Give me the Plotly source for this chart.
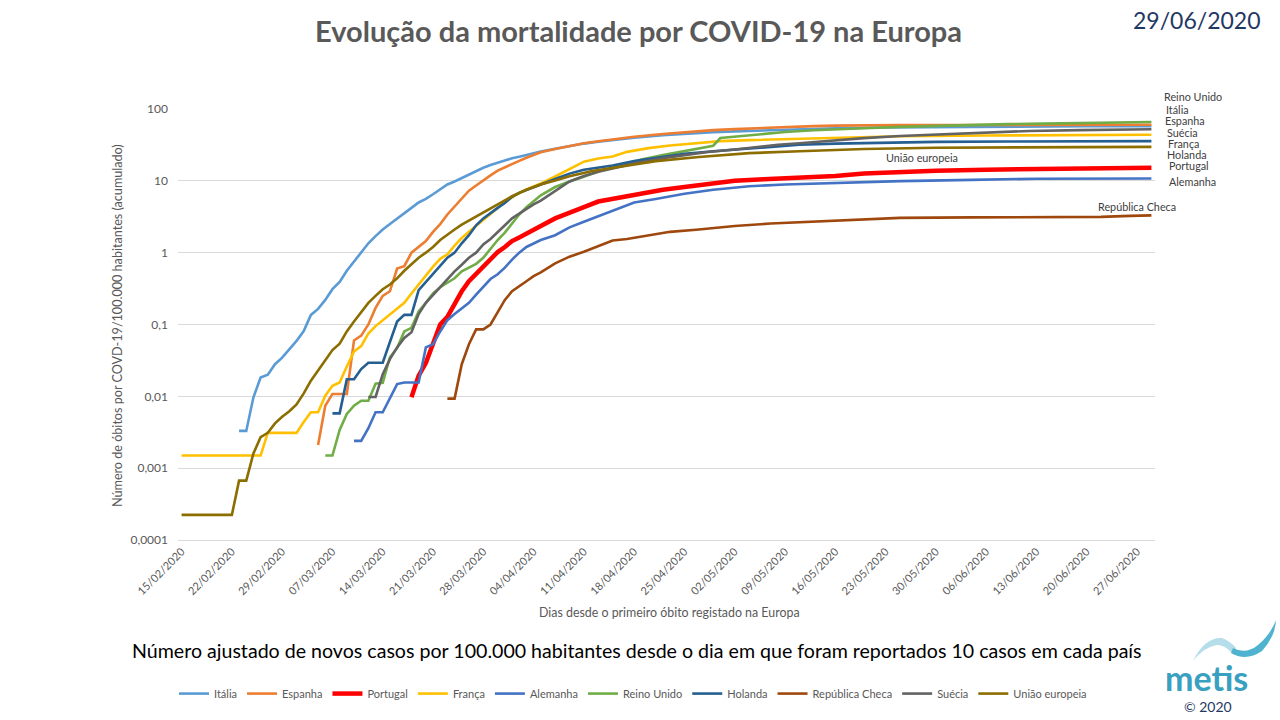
import datetime as dt
import plotly.graph_objects as go

# ---------------- DATA ----------------
# x = days since 15/02/2020, y = cumulative deaths per 100.000 inhabitants
START_DATE = "2020-02-15"

ITALIA_DAYS = [8, 9, 10, 11, 12, 13, 14, 15, 16, 17, 18, 19, 20, 21, 22, 23, 24, 25, 26, 27, 28, 29, 30, 31, 32, 33, 34,
               35, 36, 37, 38, 39, 40, 41, 42, 43, 44, 45, 46, 47, 48, 49, 50, 52, 54, 56, 58, 60, 63, 67, 70, 74, 77,
               81, 84, 88, 91, 98, 105, 112, 119, 126, 135]
ITALIA_VALS = [0.0033, 0.0033, 0.0097, 0.0183, 0.020, 0.028, 0.0345, 0.045, 0.059, 0.081, 0.136, 0.165, 0.22, 0.31,
               0.39, 0.56, 0.75, 1.0, 1.35, 1.7, 2.1, 2.5, 3.0, 3.6, 4.2, 5.0, 5.6, 6.5, 7.7, 8.9, 9.8, 11.0, 12.3,
               13.6, 15.2, 16.6, 17.9, 19.3, 20.6, 21.7, 23.0, 24.2, 25.6, 28.0, 30.6, 33.0, 35.0, 37.0, 39.7, 43.2,
               45.3, 47.5, 48.8, 50.5, 52.0, 53.0, 54.0, 55.3, 56.1, 56.7, 57.1, 57.4, 57.6]

ESPANHA_DAYS = [19, 20, 21, 22, 23, 24, 25, 26, 27, 28, 29, 30, 31, 32, 33, 34, 35, 36, 37, 38, 39, 40, 41, 42, 43, 44,
                45, 46, 47, 48, 49, 50, 52, 54, 56, 58, 60, 63, 67, 70, 74, 77, 81, 84, 88, 91, 95, 100, 112, 124, 135]
ESPANHA_VALS = [0.0021, 0.0074, 0.0108, 0.0108, 0.0108, 0.06, 0.07, 0.10, 0.17, 0.25, 0.29, 0.60, 0.65, 1.0, 1.2,
                1.45, 1.95, 2.5, 3.4, 4.4, 5.6, 7.3, 8.6, 10.2, 11.9, 13.9, 15.3, 17.0, 19.0, 21.0, 22.8, 25.0, 27.8,
                30.5, 33.3, 35.6, 37.9, 41.0, 44.9, 47.7, 50.8, 52.5, 54.7, 56.5, 57.8, 58.6, 59.6, 60.0, 60.0, 60.1,
                60.3]

PORTUGAL_DAYS = [32, 33, 34, 35, 36, 37, 38, 39, 40, 41, 42, 43, 44, 45, 46, 47, 48, 50, 52, 54, 56, 58, 60, 63, 67,
                 70, 74, 77, 81, 86, 91, 95, 100, 105, 112, 119, 126, 133, 135]
PORTUGAL_VALS = [0.0097, 0.0194, 0.029, 0.055, 0.10, 0.128, 0.20, 0.29, 0.40, 0.50, 0.64, 0.82, 1.02, 1.2, 1.45,
                 1.63, 1.82, 2.35, 3.0, 3.65, 4.3, 5.15, 5.6, 6.5, 7.5, 8.2, 9.2, 10.0, 10.5, 11.0, 11.7, 12.6, 13.4,
                 13.8, 14.3, 14.7, 14.9, 15.0, 15.2]

FRANCA_DAYS = [0, 11, 12, 16, 17, 18, 19, 20, 21, 22, 23, 24, 25, 26, 27, 28, 29, 30, 31, 32, 33, 34, 35, 36, 37, 38,
               39, 40, 41, 42, 43, 44, 45, 46, 47, 48, 50, 52, 54, 56, 58, 60, 62, 65, 68, 72, 75, 79, 84, 91, 100,
               112, 125, 135]
FRANCA_VALS = [0.0015, 0.0015, 0.0031, 0.0031, 0.0044, 0.006, 0.006, 0.0102, 0.014, 0.0156, 0.026, 0.042, 0.05,
               0.075, 0.095, 0.115, 0.14, 0.17, 0.2, 0.27, 0.36, 0.49, 0.64, 0.82, 0.95, 1.25, 1.6, 1.95, 2.35, 2.9,
               3.4, 4.2, 5.1, 5.9, 6.8, 7.6, 9.2, 11.5, 14.5, 18.5, 20.5, 21.8, 25.3, 28.5, 31.0, 33.3, 35.7, 36.9,
               38.2, 39.8, 41.8, 42.7, 43.3, 43.8]

ALEMANHA_DAYS = [24, 25, 26, 27, 28, 29, 30, 31, 32, 33, 34, 35, 36, 37, 38, 39, 40, 41, 42, 43, 44, 45, 46, 47, 48,
                 50, 52, 54, 56, 58, 60, 63, 66, 70, 74, 79, 84, 91, 100, 110, 119, 135]
ALEMANHA_VALS = [0.0024, 0.0024, 0.0036, 0.006, 0.006, 0.0095, 0.0148, 0.0156, 0.0156, 0.0156, 0.048, 0.053, 0.08,
                 0.115, 0.14, 0.17, 0.20, 0.26, 0.34, 0.43, 0.50, 0.62, 0.80, 1.0, 1.2, 1.5, 1.75, 2.25, 2.7, 3.2,
                 3.8, 5.0, 5.6, 6.6, 7.5, 8.4, 8.9, 9.4, 9.9, 10.3, 10.7, 10.8]

REINO_UNIDO_DAYS = [20, 21, 22, 23, 24, 25, 26, 27, 28, 29, 30, 31, 32, 33, 34, 35, 36, 37, 38, 39, 40, 41, 42, 43,
                    44, 45, 46, 47, 48, 49, 50, 52, 54, 56, 58, 60, 62, 64, 67, 70, 72, 74, 75, 78, 81, 84, 88, 91,
                    95, 100, 105, 110, 115, 120, 125, 130, 135]
REINO_UNIDO_VALS = [0.0015, 0.0015, 0.0034, 0.0057, 0.0074, 0.0087, 0.0087, 0.015, 0.0154, 0.035, 0.047, 0.08,
                    0.09, 0.152, 0.2, 0.27, 0.33, 0.38, 0.44, 0.55, 0.62, 0.70, 0.85, 1.15, 1.5, 1.9, 2.5, 3.4, 4.3,
                    5.2, 6.3, 8.2, 9.8, 11.4, 13.5, 15.2, 17.5, 19.8, 22.8, 26.2, 28.5, 30.8, 39.4, 42.0, 44.5, 47.8,
                    50.5, 52.5, 54.0, 56.3, 58.3, 60.0, 61.5, 62.6, 63.6, 64.7, 65.8]

HOLANDA_DAYS = [21, 22, 23, 24, 25, 26, 27, 28, 29, 30, 31, 32, 33, 34, 35, 36, 37, 38, 39, 40, 41, 42, 43, 44, 45, 46,
                47, 48, 49, 50, 52, 54, 56, 58, 60, 63, 67, 70, 74, 77, 81, 86, 91, 97, 105, 115, 125, 135]
HOLANDA_VALS = [0.0058, 0.0058, 0.0173, 0.0173, 0.024, 0.0294, 0.0294, 0.0294, 0.057, 0.11, 0.136, 0.136, 0.30,
                0.39, 0.5, 0.64, 0.85, 1.0, 1.35, 1.75, 2.4, 3.0, 3.6, 4.2, 4.9, 6.0, 6.8, 7.5, 8.1, 8.9, 10.6, 12.6,
                14.3, 15.2, 16.3, 18.8, 21.7, 23.7, 25.8, 27.2, 29.3, 31.8, 33.0, 34.1, 34.9, 35.3, 35.5, 35.7]

REP_CHECA_DAYS = [37, 38, 39, 40, 41, 42, 43, 44, 45, 46, 47, 48, 49, 50, 52, 54, 56, 58, 60, 62, 65, 68, 72, 77, 82,
                  86, 91, 96, 100, 110, 119, 128, 132, 135]
REP_CHECA_VALS = [0.0093, 0.0093, 0.028, 0.053, 0.0855, 0.0855, 0.1, 0.15, 0.22, 0.29, 0.336, 0.4, 0.47, 0.53, 0.71,
                  0.88, 1.03, 1.22, 1.48, 1.55, 1.75, 1.95, 2.1, 2.35, 2.55, 2.65, 2.8, 2.95, 3.05, 3.1, 3.12, 3.15,
                  3.25, 3.3]

SUECIA_DAYS = [26, 27, 28, 29, 30, 31, 32, 33, 34, 35, 36, 37, 38, 39, 40, 41, 42, 43, 44, 45, 46, 47, 48, 49, 50, 52,
               54, 56, 58, 60, 63, 67, 70, 73, 77, 80, 83, 86, 90, 95, 100, 105, 111, 118, 125, 130, 135]
SUECIA_VALS = [0.0098, 0.0098, 0.0203, 0.033, 0.048, 0.065, 0.078, 0.14, 0.2, 0.258, 0.33, 0.43, 0.55, 0.68, 0.85,
               1.0, 1.3, 1.55, 1.95, 2.4, 3.0, 3.5, 4.1, 4.7, 5.3, 7.3, 9.8, 11.7, 13.4, 14.8, 17.5, 20.7, 23.0,
               25.0, 27.3, 29.5, 31.8, 33.3, 36.0, 39.3, 42.0, 43.8, 45.6, 49.5, 50.8, 51.6, 52.2]

UE_DAYS = [0, 7, 8, 9, 10, 11, 12, 13, 14, 15, 16, 17, 18, 19, 20, 21, 22, 23, 24, 25, 26, 27, 28, 29, 30, 31, 32, 33,
           34, 35, 36, 37, 38, 39, 40, 41, 42, 44, 46, 48, 50, 52, 54, 57, 61, 66, 72, 79, 86, 95, 105, 115, 125, 135]
UE_VALS = [0.000224, 0.000224, 0.00067, 0.00067, 0.0016, 0.0027, 0.0031, 0.0042, 0.0052, 0.0062, 0.0077, 0.011,
           0.0165, 0.023, 0.032, 0.044, 0.054, 0.08, 0.11, 0.15, 0.2, 0.25, 0.31, 0.36, 0.44, 0.56, 0.7, 0.85, 1.0,
           1.2, 1.5, 1.8, 2.1, 2.45, 2.8, 3.2, 3.6, 4.8, 6.1, 7.5, 8.9, 10.1, 11.6, 13.6, 15.7, 18.8, 21.5, 24.3,
           25.8, 27.8, 28.9, 29.3, 29.5, 29.7]

SERIES_NAMES = ["Itália", "Espanha", "Portugal", "França", "Alemanha", "Reino Unido", "Holanda",
                "República Checa", "Suécia", "União europeia"]
SERIES_DAYS = [ITALIA_DAYS, ESPANHA_DAYS, PORTUGAL_DAYS, FRANCA_DAYS, ALEMANHA_DAYS, REINO_UNIDO_DAYS,
               HOLANDA_DAYS, REP_CHECA_DAYS, SUECIA_DAYS, UE_DAYS]
SERIES_VALS = [ITALIA_VALS, ESPANHA_VALS, PORTUGAL_VALS, FRANCA_VALS, ALEMANHA_VALS, REINO_UNIDO_VALS,
               HOLANDA_VALS, REP_CHECA_VALS, SUECIA_VALS, UE_VALS]

X_TICK_LABELS = ["15/02/2020", "22/02/2020", "29/02/2020", "07/03/2020", "14/03/2020", "21/03/2020", "28/03/2020",
                 "04/04/2020", "11/04/2020", "18/04/2020", "25/04/2020", "02/05/2020", "09/05/2020", "16/05/2020",
                 "23/05/2020", "30/05/2020", "06/06/2020", "13/06/2020", "20/06/2020", "27/06/2020"]
Y_TICK_VALUES = [0.0001, 0.001, 0.01, 0.1, 1, 10, 100]
Y_TICK_LABELS = ["0,0001", "0,001", "0,01", "0,1", "1", "10", "100"]

# ---------------- STYLE ----------------
COLORS = ["#5B9BD5", "#ED7D31", "#FF0000", "#FFC000", "#4472C4", "#70AD47", "#255E91", "#9E480E", "#636363",
          "#8C6D00"]
WIDTHS = [2.6, 2.6, 4.5, 2.6, 2.6, 2.6, 2.6, 2.6, 2.6, 2.6]
FONT = "Lato"
GREY = "#595959"

W, H = 1280, 720
PL, PR, PT, PB = 178, 1155, 109, 544  # plot area in pixels


def px(X):
    return (X - PL) / (PR - PL)


def py(Y):
    return (PB - Y) / (PB - PT)


start = dt.datetime.strptime(START_DATE, "%Y-%m-%d")


def to_dates(days):
    return [start + dt.timedelta(days=d) for d in days]


fig = go.Figure()
for name, days, vals, col, wdt in zip(SERIES_NAMES, SERIES_DAYS, SERIES_VALS, COLORS, WIDTHS):
    fig.add_trace(go.Scatter(x=to_dates(days), y=vals, name=name, mode="lines",
                             line=dict(color=col, width=wdt), hoverinfo="x+y+name"))

tickvals = [dt.datetime.strptime(t, "%d/%m/%Y") for t in X_TICK_LABELS]

fig.update_layout(
    width=W, height=H, autosize=False,
    margin=dict(l=PL, r=W - PR, t=PT, b=H - PB, pad=0),
    paper_bgcolor="white", plot_bgcolor="white",
    font=dict(family=FONT, color=GREY, size=11),
    showlegend=True,
    legend=dict(orientation="h", x=px(174), xanchor="left", y=py(699), yanchor="middle",
                font=dict(family=FONT, size=11, color=GREY), itemwidth=30, tracegroupgap=0,
                bgcolor="rgba(0,0,0,0)"),
    xaxis=dict(type="date", range=[start - dt.timedelta(hours=12), start + dt.timedelta(days=135, hours=12)],
               tickvals=tickvals, ticktext=X_TICK_LABELS, tickangle=-45, showgrid=False, zeroline=False,
               showline=True, linecolor="#D9D9D9", linewidth=1, ticks="",
               tickfont=dict(family=FONT, size=11, color=GREY)),
    yaxis=dict(type="log", range=[-4, 2], tickvals=Y_TICK_VALUES, ticktext=Y_TICK_LABELS, showgrid=True,
               gridcolor="#D9D9D9", gridwidth=1, zeroline=False, showline=False, ticks="",
               ticklabelstandoff=9, tickfont=dict(family=FONT, size=12, color=GREY)),
)

ann = []
# Title & date
ann.append(dict(text="<b>Evolução da mortalidade por COVID-19 na Europa</b>", x=px(638), y=py(30),
                font=dict(family=FONT, size=29, color=GREY)))
ann.append(dict(text="29/06/2020", x=px(1197), y=py(19), font=dict(family=FONT, size=23, color="#1F3864")))
# Axis titles
ann.append(dict(text="Número de óbitos por COVD-19/100.000 habitantes (acumulado)", x=px(118), y=py(328),
                textangle=-90, font=dict(family=FONT, size=12.6, color=GREY)))
ann.append(dict(text="Dias desde o primeiro óbito registado na Europa", x=px(669), y=py(617),
                font=dict(family=FONT, size=12.4, color=GREY)))
# Subtitle
ann.append(dict(text="Número ajustado de novos casos por 100.000 habitantes desde o dia em que foram reportados "
                     "10 casos em cada país", x=px(637), y=py(656),
                font=dict(family=FONT, size=19.6, color="#000000")))
# Series labels (right of the curves)
LABELS = [("Reino Unido", 1162, 96), ("Itália", 1164, 109), ("Espanha", 1163, 121), ("Suécia", 1165, 133),
          ("França", 1166, 144), ("Holanda", 1165, 155), ("Portugal", 1167, 166), ("Alemanha", 1167, 182),
          ("República Checa", 1096, 207), ("União europeia", 884, 158)]
for txt, lx, ly in LABELS:
    ann.append(dict(text=txt, x=px(lx), y=py(ly), xanchor="left",
                    font=dict(family=FONT, size=10.8, color="#404040")))
# Logo text
ann.append(dict(text="<b>metis</b>", x=px(1206), y=py(683), font=dict(family=FONT, size=34, color="#3AA0BF")))
ann.append(dict(text="© 2020", x=px(1208), y=py(712), font=dict(family=FONT, size=14, color="#1F3864")))

for a in ann:
    a.setdefault("xanchor", "center")
    a.update(xref="paper", yref="paper", yanchor="middle", showarrow=False)
fig.update_layout(annotations=ann)


def P(X, Y):
    return f"{px(X):.5f},{py(Y):.5f}"


wave_light = (f"M {P(1193, 666)} Q {P(1205, 642)} {P(1222, 643)} Q {P(1230, 646)} {P(1236, 653)} "
              f"L {P(1232, 658)} Q {P(1225, 650)} {P(1217, 650)} Q {P(1204, 652)} {P(1193, 666)} Z")
wave_dark = (f"M {P(1233, 653)} Q {P(1246, 660)} {P(1258, 650)} Q {P(1270, 640)} {P(1276, 625)} "
             f"Q {P(1275, 642)} {P(1262, 656)} Q {P(1246, 667)} {P(1231, 658)} Z")
fig.update_layout(shapes=[
    dict(type="path", path=wave_light, xref="paper", yref="paper", fillcolor="#B5DEEA", line=dict(width=0)),
    dict(type="path", path=wave_dark, xref="paper", yref="paper", fillcolor="#4FB3CF", line=dict(width=0)),
])

fig.write_html("out.html", include_plotlyjs=True, full_html=True,
               post_script="document.body.style.margin='0';", config={"displayModeBar": False})
